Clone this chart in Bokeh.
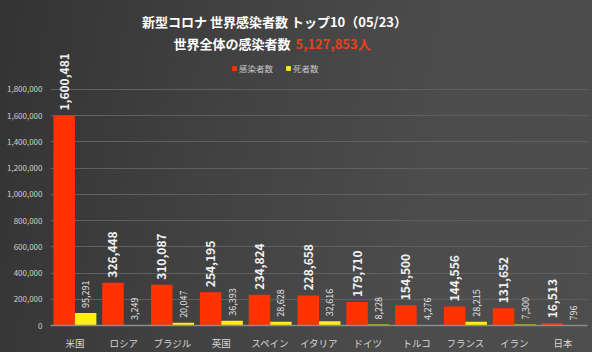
import numpy as np
from bokeh.plotting import figure
from bokeh.models import (ColumnDataSource, Range1d, FixedTicker, NumeralTickFormatter,
                          LabelSet, Label, Legend, LegendItem)
from bokeh.core.properties import value
from bokeh.embed import file_html
from bokeh.resources import INLINE

countries = ["米国", "ロシア", "ブラジル", "英国", "スペイン", "イタリア", "ドイツ", "トルコ", "フランス", "イラン", "日本"]
infected = [1600481, 326448, 310087, 254195, 234824, 228658, 179710, 154500, 144556, 131652, 16513]
deaths = [95291, 3249, 20047, 36393, 28628, 32616, 8228, 4276, 28215, 7300, 796]
y_ticks = [0, 200000, 400000, 600000, 800000, 1000000, 1200000, 1400000, 1600000, 1800000]
title1 = "新型コロナ 世界感染者数 トップ10（05/23）"
title2a = "世界全体の感染者数"
title2b = "5,127,853人"
legend_names = ["感染者数", "死者数"]

FONT = "Noto Sans CJK JP"
RED = "#ff3300"
YEL = "#ffee11"

# layout: plot frame spans the full height above the x axis so the titles
# and the tall data label are not clipped; 2,000,000 sits 264 px above 0.
FRAME_H = 327
Y_END = 2000000 * FRAME_H / 264

idx = np.arange(len(countries))
src = ColumnDataSource(dict(
    xi=idx - 0.22, xd=idx + 0.22,
    inf=infected, dea=deaths,
    inf_t=[f"{v:,}" for v in infected],
    dea_t=[f"{v:,}" for v in deaths],
))

p = figure(width=592, height=352, output_backend="svg", toolbar_location=None,
           x_range=Range1d(-0.5, len(countries) - 0.5), y_range=Range1d(0, Y_END),
           min_border_left=50, min_border_right=5, min_border_top=0, min_border_bottom=25)
p.border_fill_color = None
p.background_fill_color = None
p.outline_line_color = None
p.styles = {"background": "linear-gradient(100deg, #333333 0%, #414141 35%, #4c4c4c 70%, #4d4d4d 100%)"}

r1 = p.vbar(x="xi", top="inf", width=0.44, source=src, fill_color=RED, line_color=None)
r2 = p.vbar(x="xd", top="dea", width=0.44, source=src, fill_color=YEL, line_color=None)

# axes
p.yaxis.ticker = FixedTicker(ticks=y_ticks)
p.yaxis.formatter = NumeralTickFormatter(format="0,0")
p.yaxis.axis_line_color = None
p.yaxis.major_tick_line_color = None
p.yaxis.minor_tick_line_color = None
p.yaxis.major_tick_out = 0
p.yaxis.major_tick_in = 0
p.yaxis.major_label_text_font = FONT
p.yaxis.major_label_text_font_size = "8px"
p.yaxis.major_label_text_color = "#d0d0d0"
p.yaxis.major_label_standoff = 8

p.xaxis.ticker = FixedTicker(ticks=list(idx))
p.xaxis.major_label_overrides = {int(i): c for i, c in zip(idx, countries)}
p.xaxis.axis_line_color = "#8c8c8c"
p.xaxis.axis_line_width = 1.5
p.xaxis.major_tick_line_color = None
p.xaxis.minor_tick_line_color = None
p.xaxis.major_tick_out = 0
p.xaxis.major_tick_in = 0
p.xaxis.major_label_text_font = FONT
p.xaxis.major_label_text_font_size = "9.5px"
p.xaxis.major_label_text_color = "#d8d8d8"
p.xaxis.major_label_standoff = 10

p.xgrid.grid_line_color = None
p.ygrid.grid_line_color = "#606060"
p.ygrid.grid_line_width = 1

# data labels
lab1 = LabelSet(x="xi", y="inf", text="inf_t", source=src, angle=np.pi / 2,
                x_offset=0, y_offset=5, text_align="left", text_baseline="middle",
                text_font=value(FONT), text_font_size=value("12px"), text_font_style="bold",
                text_color="#f0f0f0")
lab2 = LabelSet(x="xd", y="dea", text="dea_t", source=src, angle=np.pi / 2,
                x_offset=0, y_offset=5, text_align="left", text_baseline="middle",
                text_font=value(FONT), text_font_size=value("9px"), text_color="#e6e6e6")
p.add_layout(lab1)
p.add_layout(lab2)

# legend
legend = Legend(items=[LegendItem(label=legend_names[0], renderers=[r1]),
                       LegendItem(label=legend_names[1], renderers=[r2])],
                orientation="horizontal", location=(181, 251),
                background_fill_alpha=0, border_line_color=None,
                label_text_font=FONT, label_text_font_size="8.5px", label_text_color="#c8c8c8",
                glyph_width=6, glyph_height=6, label_standoff=2, spacing=12,
                padding=2, margin=0, label_height=8)
p.add_layout(legend)

# titles (screen units relative to plot frame)
t1 = Label(x=224, y=304, x_units="screen", y_units="screen", text=title1,
           text_align="center", text_baseline="middle", text_font=FONT,
           text_font_size="13px", text_font_style="bold", text_color="#ffffff")
t2 = Label(x=240, y=282, x_units="screen", y_units="screen", text=title2a,
           text_align="right", text_baseline="middle", text_font=FONT,
           text_font_size="13px", text_font_style="bold", text_color="#ffffff")
t3 = Label(x=245, y=282, x_units="screen", y_units="screen", text=title2b,
           text_align="left", text_baseline="middle", text_font=FONT,
           text_font_size="13px", text_font_style="bold", text_color="#e8401c")
for t in (t1, t2, t3):
    p.add_layout(t)

open("out.html", "w").write(file_html(p, INLINE))
